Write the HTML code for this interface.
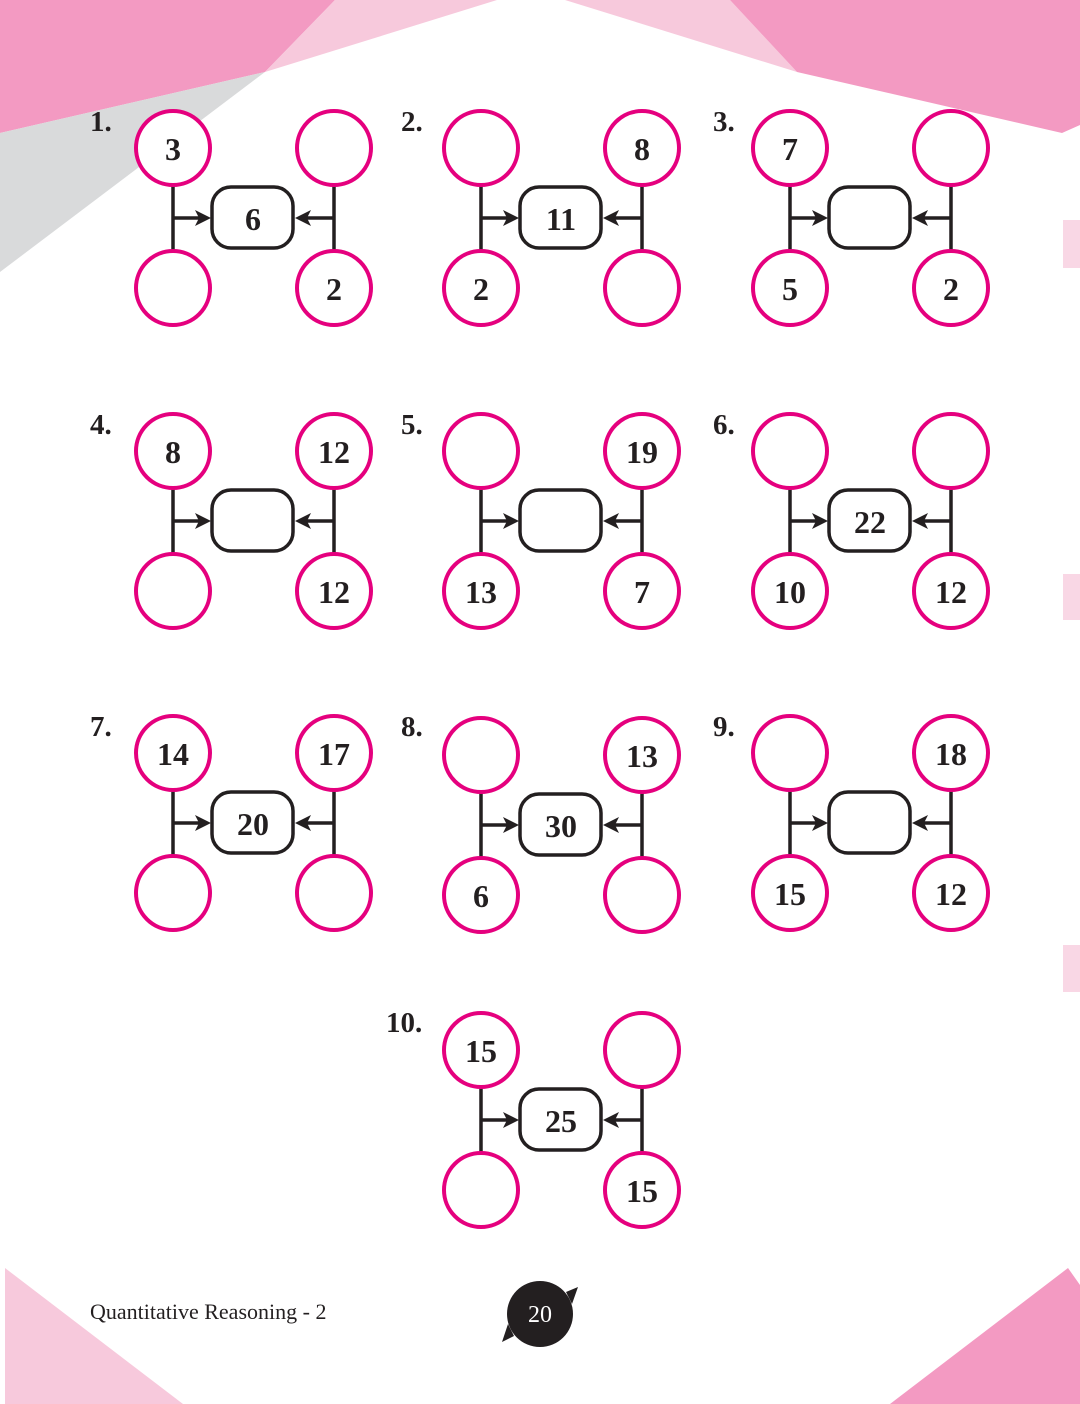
<!DOCTYPE html>
<html><head><meta charset="utf-8"><style>
html,body{margin:0;padding:0;background:#fff}
svg{display:block}
.n{font-family:"Liberation Serif",serif;font-weight:bold;font-size:32px;fill:#231f20;text-anchor:middle}
.l{font-family:"Liberation Serif",serif;font-weight:bold;font-size:29px;fill:#231f20}
</style></head><body>
<svg width="1080" height="1404" viewBox="0 0 1080 1404" xmlns="http://www.w3.org/2000/svg">
<defs>
<g id="p">
<g fill="none" stroke="#231f20" stroke-width="3.5">
<line x1="0" y1="36" x2="0" y2="104"/>
<line x1="161" y1="36" x2="161" y2="104"/>
<line x1="0" y1="70" x2="28" y2="70"/>
<line x1="161" y1="70" x2="133" y2="70"/>
<rect x="39" y="39" width="81" height="61" rx="19"/>
</g>
<polygon points="38,70 22,62 26,70 22,78" fill="#231f20"/>
<polygon points="122,70 138,62 134,70 138,78" fill="#231f20"/>
<g fill="#fff" stroke="#e5007e" stroke-width="4">
<circle cx="0" cy="0" r="37"/><circle cx="161" cy="0" r="37"/>
<circle cx="0" cy="140" r="37"/><circle cx="161" cy="140" r="37"/>
</g>
</g>
</defs>
<polygon points="0,0 335,0 265,72 0,133" fill="#f39ac2"/>
<polygon points="335,0 497,0 265,72" fill="#f7c9dc"/>
<polygon points="0,133 265,72 0,272" fill="#d9dadb"/>
<polygon points="565,0 730,0 797,72" fill="#f7c9dc"/>
<polygon points="730,0 1080,0 1080,125 1062,133 797,72" fill="#f39ac2"/>
<rect x="1063" y="220" width="17" height="48" fill="#f9d7e5"/>
<rect x="1063" y="574" width="17" height="46" fill="#f9d7e5"/>
<rect x="1063" y="945" width="17" height="47" fill="#f9d7e5"/>
<polygon points="5,1268 5,1404 183,1404" fill="#f7c9dc"/>
<polygon points="1068,1268 890,1404 1080,1404 1080,1285" fill="#f39ac2"/>

<g transform="translate(173,148)"><use href="#p"/><text class="n" x="0" y="12">3</text><text class="n" x="161" y="152">2</text><text class="n" x="80" y="82">6</text><text class="l" x="-83" y="-17">1.</text></g>
<g transform="translate(481,148)"><use href="#p"/><text class="n" x="161" y="12">8</text><text class="n" x="0" y="152">2</text><text class="n" x="80" y="82">11</text><text class="l" x="-80" y="-17">2.</text></g>
<g transform="translate(790,148)"><use href="#p"/><text class="n" x="0" y="12">7</text><text class="n" x="0" y="152">5</text><text class="n" x="161" y="152">2</text><text class="l" x="-77" y="-17">3.</text></g>

<g transform="translate(173,451)"><use href="#p"/><text class="n" x="0" y="12">8</text><text class="n" x="161" y="12">12</text><text class="n" x="161" y="152">12</text><text class="l" x="-83" y="-17">4.</text></g>
<g transform="translate(481,451)"><use href="#p"/><text class="n" x="161" y="12">19</text><text class="n" x="0" y="152">13</text><text class="n" x="161" y="152">7</text><text class="l" x="-80" y="-17">5.</text></g>
<g transform="translate(790,451)"><use href="#p"/><text class="n" x="0" y="152">10</text><text class="n" x="161" y="152">12</text><text class="n" x="80" y="82">22</text><text class="l" x="-77" y="-17">6.</text></g>

<g transform="translate(173,753)"><use href="#p"/><text class="n" x="0" y="12">14</text><text class="n" x="161" y="12">17</text><text class="n" x="80" y="82">20</text><text class="l" x="-83" y="-17">7.</text></g>
<g transform="translate(481,755)"><use href="#p"/><text class="n" x="161" y="12">13</text><text class="n" x="0" y="152">6</text><text class="n" x="80" y="82">30</text><text class="l" x="-80" y="-19">8.</text></g>
<g transform="translate(790,753)"><use href="#p"/><text class="n" x="161" y="12">18</text><text class="n" x="0" y="152">15</text><text class="n" x="161" y="152">12</text><text class="l" x="-77" y="-17">9.</text></g>

<g transform="translate(481,1050)"><use href="#p"/><text class="n" x="0" y="12">15</text><text class="n" x="161" y="152">15</text><text class="n" x="80" y="82">25</text><text class="l" x="-95" y="-18">10.</text></g>

<text x="90" y="1319" font-family="Liberation Serif,serif" font-size="22" fill="#231f20">Quantitative Reasoning - 2</text>
<ellipse cx="540" cy="1314" rx="33" ry="33" fill="#231f20"/>
<polygon points="566,1292 578,1287 572,1304" fill="#231f20"/>
<polygon points="514,1336 502,1342 508,1324" fill="#231f20"/>
<text x="540" y="1322" text-anchor="middle" font-family="Liberation Serif,serif" font-size="24" fill="#fff">20</text>
</svg>
</body></html>
